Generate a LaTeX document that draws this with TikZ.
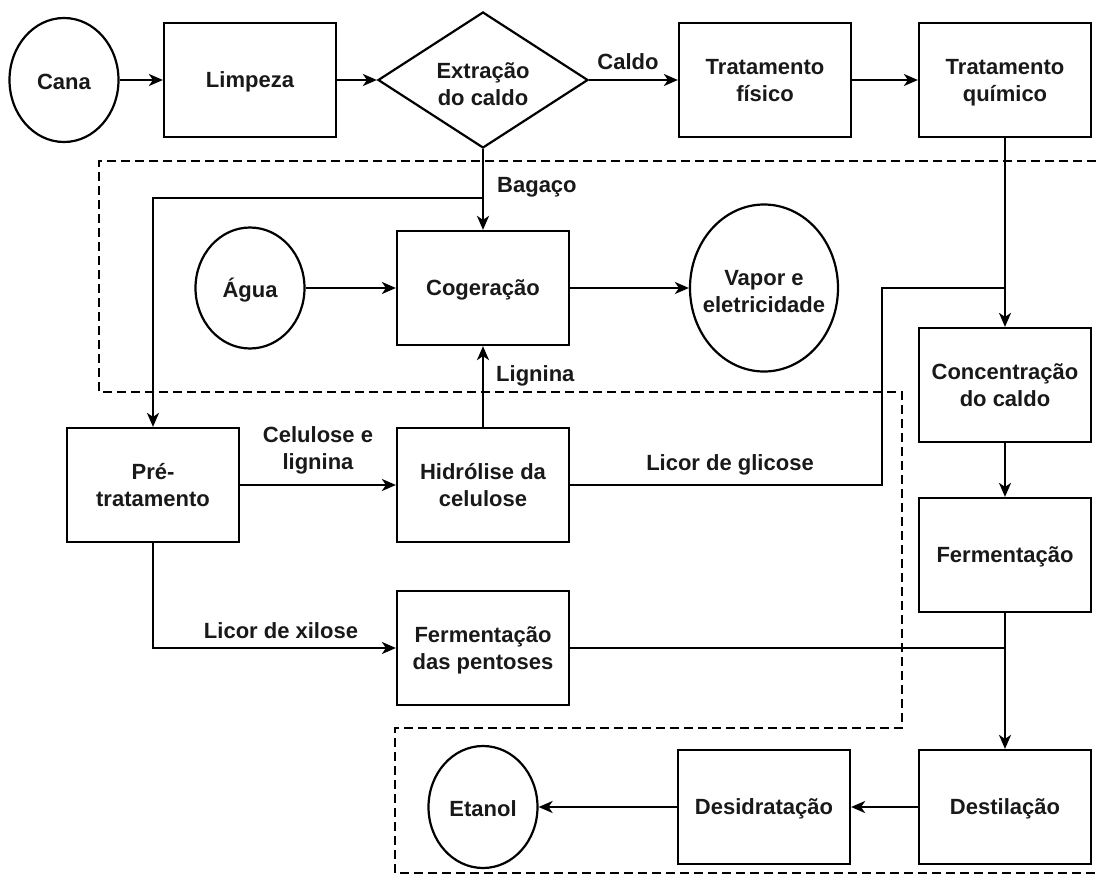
\documentclass[tikz,border=0pt]{standalone}
\usepackage{fontspec}
\setmainfont{Liberation Sans}
\usetikzlibrary{shapes.geometric,arrows.meta}
\begin{document}
\begin{tikzpicture}[x=1pt,y=-1pt,
  every node/.style={font=\fontsize{22}{27}\selectfont\bfseries, align=center, text=black!90},
  box/.style={draw=black, line width=2.2pt, minimum width=172pt, minimum height=114pt, inner sep=2pt, text depth=0pt},
  ell/.style={draw=black, ellipse, line width=2.2pt, inner sep=0pt},
  dia/.style={draw=black, diamond, aspect=1.544, line width=2.2pt, minimum width=210pt, minimum height=136pt, inner sep=0pt},
  lbl/.style={inner sep=0pt},
  arr/.style={line width=2.2pt, -{Stealth[length=14pt,width=12pt,inset=4pt]}},
  ln/.style={line width=2.2pt},
  region/.style={line width=2.2pt, dash pattern=on 9pt off 5pt}]
\useasboundingbox (0,0) rectangle (1096,878);

% dashed boundary
\draw[region] (1096,161) -- (99,161) -- (99,392) -- (902,392) -- (902,728) -- (395,728) -- (395,873) -- (1096,873);

% nodes
\node[ell, minimum width=109pt, minimum height=124pt] (cana) at (64,80) {};
\node (canaT) at (64,82) {Cana};
\node[box] (limp) at (250,80) {Limpeza};
\node[dia] (extr) at (483,80) {};
\node (extrT) at (483,84) {Extração\\do caldo};
\node[box] (tfis) at (765,80) {Tratamento\\físico};
\node[box] (tqui) at (1005,80) {Tratamento\\químico};
\node[ell, minimum width=109pt, minimum height=121pt] (agua) at (250,288) {};
\node (aguaT) at (250,290) {Água};
\node[box] (cog) at (483,288) {Cogeração};
\node[ell, minimum width=148pt, minimum height=167pt] (vap) at (764,288) {};
\node (vapT) at (764,292) {Vapor e\\eletricidade};
\node[box] (conc) at (1005,385) {Concentração\\do caldo};
\node[box] (pre) at (153,485) {Pré-\\tratamento};
\node[box] (hid) at (483,485) {Hidrólise da\\celulose};
\node[box] (ferm) at (1005,555) {Fermentação};
\node[box] (fp) at (483,648) {Fermentação\\das pentoses};
\node[ell, minimum width=109pt, minimum height=122pt] (etan) at (483,807) {};
\node (etanT) at (483,809) {Etanol};
\node[box] (desid) at (764,807) {Desidratação};
\node[box] (dest) at (1005,807) {Destilação};

% junction coordinates
\coordinate (bj) at (483,198);
\coordinate (gj1) at (882,288);
\coordinate (gj2) at (1005,288);
\coordinate (pj) at (1005,648);

% connectors
\draw[arr] (cana) -- (limp);
\draw[arr] (limp) -- (extr);
\draw[arr] (extr) -- (tfis);
\draw[arr] (tfis) -- (tqui);
\draw[arr] (tqui) -- (conc);
\draw[arr] (conc) -- (ferm);
\draw[arr] (ferm) -- (dest);
\draw[arr] (dest) -- (desid);
\draw[arr] (desid) -- (etan);
\draw[arr] (extr) -- (cog);
\draw[arr] (bj) -| (pre);
\draw[arr] (agua) -- (cog);
\draw[arr] (cog) -- (vap);
\draw[arr] (hid) -- (cog);
\draw[arr] (pre) -- (hid);
\draw[arr] (pre) |- (fp);
\draw[ln] (hid) -| (gj1) -- (gj2);
\draw[ln] (fp) -- (pj);

% labels
\node[lbl] (lCaldo) at (628,62) {Caldo};
\node[lbl, anchor=west] (lBag) at (497,187) {Bagaço};
\node[lbl, anchor=west] (lLig) at (496,376) {Lignina};
\node[lbl] (lCel) at (318,450) {Celulose e\\lignina};
\node[lbl] (lXil) at (281,631) {Licor de xilose};
\node[lbl] (lGli) at (730,465) {Licor de glicose};
\end{tikzpicture}
\end{document}
